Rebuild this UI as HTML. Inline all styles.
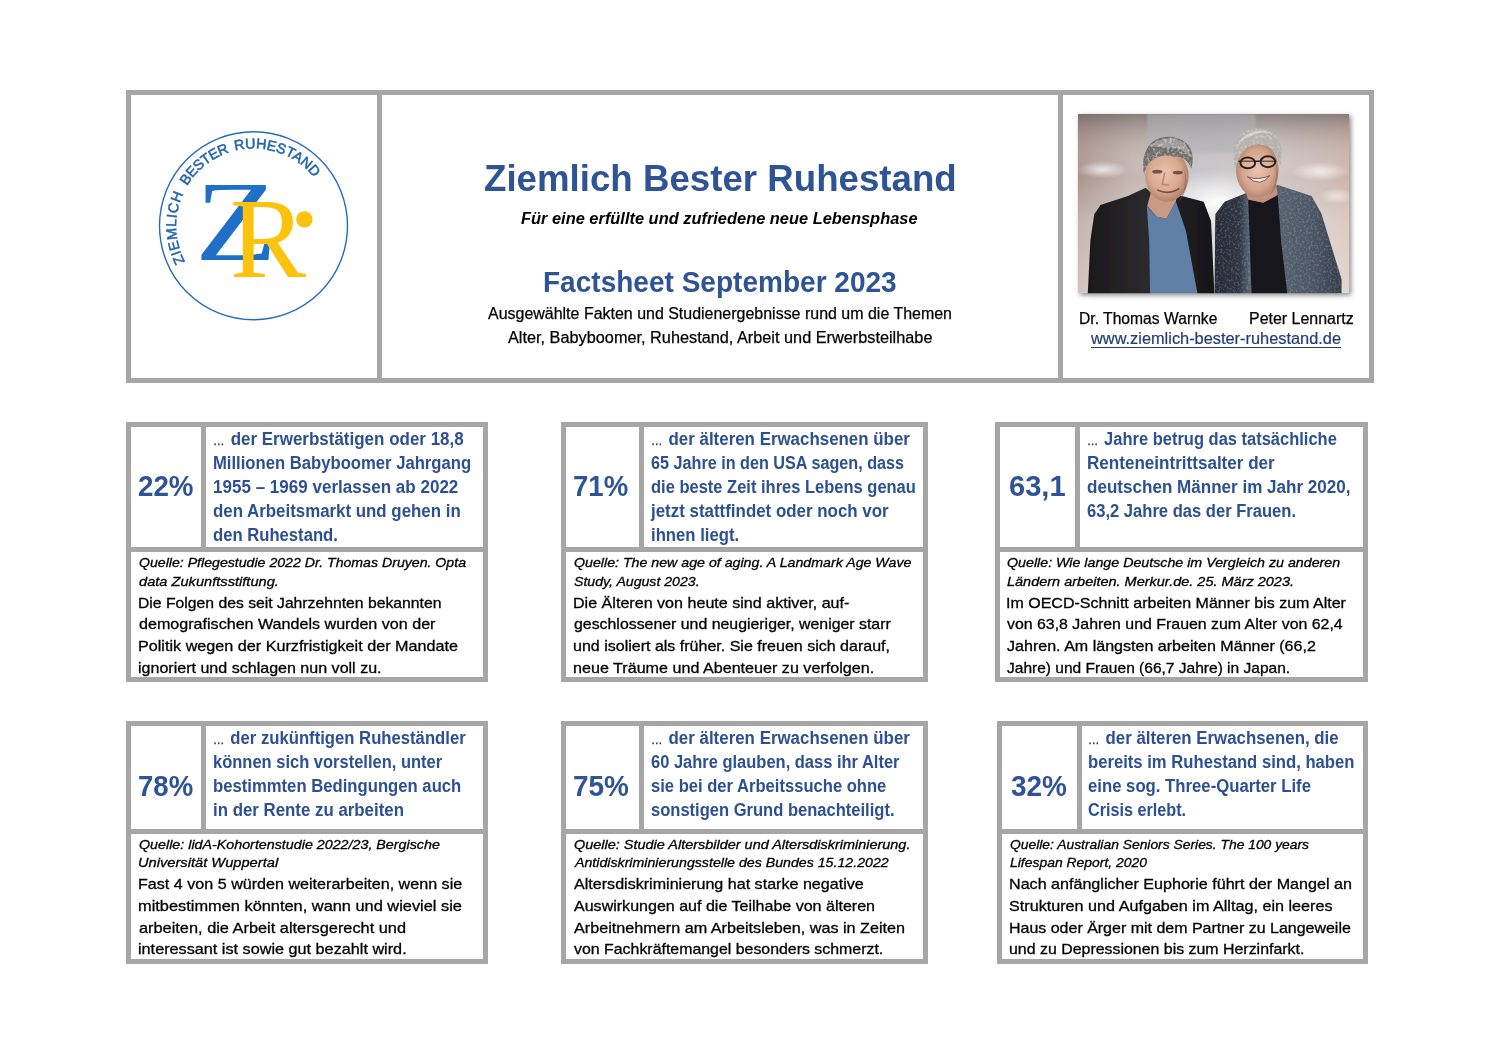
<!DOCTYPE html>
<html lang="de"><head><meta charset="utf-8"><title>Ziemlich Bester Ruhestand – Factsheet September 2023</title>
<style>
html,body{margin:0;padding:0;background:#fff;}
body{width:1500px;height:1060px;position:relative;overflow:hidden;font-family:"Liberation Sans",sans-serif;}
.b{position:absolute;background:#a6a6a6;}
.t{position:absolute;display:block;white-space:nowrap;transform-origin:0 0;line-height:1;margin:0;padding:0;}
.title{font-size:37.7px;font-weight:bold;font-style:normal;color:#2f5496;}
.sub{font-size:16.3px;font-weight:bold;font-style:italic;color:#000;}
.fact{font-size:30.2px;font-weight:bold;font-style:normal;color:#2f5496;}
.desc{font-size:15.8px;font-weight:normal;font-style:normal;color:#000;-webkit-text-stroke:0.25px #000;}
.name{font-size:15.8px;font-weight:normal;font-style:normal;color:#000;-webkit-text-stroke:0.25px #000;}
.url{font-size:15.8px;font-weight:normal;font-style:normal;color:#223c75;-webkit-text-stroke:0.2px #223c75;}
.num{font-size:29.3px;font-weight:bold;font-style:normal;color:#2f5496;}
.stmt{font-size:17.6px;font-weight:bold;font-style:normal;color:#2d5092;}
.src{font-size:13.6px;font-weight:normal;font-style:italic;color:#000;-webkit-text-stroke:0.3px #000;}
.body{font-size:15px;font-weight:normal;font-style:normal;color:#000;-webkit-text-stroke:0.3px #000;}
.url{text-decoration:underline;text-decoration-thickness:1px;text-underline-offset:2.5px;}
svg{position:absolute;overflow:visible;}
.el{font-size:.68em;font-weight:normal;color:#1c2c50;-webkit-text-stroke:0.3px #1c2c50;margin-right:.12em}
</style></head><body>
<header id="head">
<div class="b" style="left:126px;top:90px;width:1248px;height:4.5px"></div>
<div class="b" style="left:126px;top:378px;width:1248px;height:5px"></div>
<div class="b" style="left:126px;top:90px;width:5px;height:293px"></div>
<div class="b" style="left:1369px;top:90px;width:5px;height:293px"></div>
<div class="b" style="left:377px;top:90px;width:5px;height:293px"></div>
<div class="b" style="left:1058px;top:90px;width:5px;height:293px"></div>
<svg style="left:140px;top:120px" width="230" height="220" viewBox="140 120 230 220">
<defs><path id="arc" d="M 194.28 275.49 A 77.3 77.3 0 1 1 312.72 275.49"/></defs>
<circle cx="253.5" cy="225.8" r="94" fill="none" stroke="#246bbf" stroke-width="1.4"/>
<g font-family="'Liberation Sans',sans-serif" font-size="14.3" fill="#1e63b2" stroke="#1e63b2" stroke-width="0.5">
<text><textPath href="#arc" startOffset="16.3" textLength="70.7" lengthAdjust="spacing">ZIEMLICH</textPath></text>
<text><textPath href="#arc" startOffset="95.5" textLength="55.2" lengthAdjust="spacing">BESTER</textPath></text>
<text><textPath href="#arc" startOffset="156.6" textLength="88.0" lengthAdjust="spacing">RUHESTAND</textPath></text>
</g>
<text transform="translate(194.9,259.5) scale(1.186,1)" font-family="'Liberation Serif',serif" font-size="114" fill="#1f6fc9">Z</text>
<text x="230" y="277" font-family="'Liberation Serif',serif" font-size="114" fill="#fcc30e">R</text>
<circle cx="304.4" cy="219.4" r="8.2" fill="#fcc30e"/>
</svg>
<svg style="left:1078px;top:114.3px;filter:drop-shadow(2px 2px 2.5px rgba(0,0,0,.45))" width="271.3" height="179.3" viewBox="42 48 1403 924" preserveAspectRatio="none">
<defs>
<linearGradient id="bgx" x1="0" x2="1" y1="0" y2="0"><stop offset="0" stop-color="#a9948f"/><stop offset=".2" stop-color="#c6b6b1"/><stop offset=".42" stop-color="#c4c3c7"/><stop offset=".7" stop-color="#cfc8c8"/><stop offset="1" stop-color="#cdb5ab"/></linearGradient>
<linearGradient id="bgy" x1="0" x2="0" y1="0" y2="1"><stop offset="0" stop-color="#5f5654" stop-opacity=".6"/><stop offset=".12" stop-color="#8d807c" stop-opacity=".3"/><stop offset=".35" stop-color="#fff" stop-opacity="0"/><stop offset=".6" stop-color="#fff" stop-opacity=".3"/><stop offset="1" stop-color="#fff" stop-opacity=".45"/></linearGradient>
<radialGradient id="glow"><stop offset="0" stop-color="#fff" stop-opacity=".95"/><stop offset="1" stop-color="#fff" stop-opacity="0"/></radialGradient>
<radialGradient id="skin1" cx=".45" cy=".45" r=".6"><stop offset="0" stop-color="#ecc3ad"/><stop offset=".6" stop-color="#d9a890"/><stop offset="1" stop-color="#a87862"/></radialGradient>
<radialGradient id="skin2" cx=".5" cy=".5" r=".6"><stop offset="0" stop-color="#eac4b0"/><stop offset=".6" stop-color="#d6a58e"/><stop offset="1" stop-color="#9d705c"/></radialGradient>
<linearGradient id="jk1" x1="0" x2="1"><stop offset="0" stop-color="#19181b"/><stop offset=".45" stop-color="#2b2a2d"/><stop offset="1" stop-color="#151417"/></linearGradient>
<linearGradient id="jk2" x1="0" x2="1"><stop offset="0" stop-color="#232a35"/><stop offset=".2" stop-color="#2f3744"/><stop offset=".27" stop-color="#566170"/><stop offset=".5" stop-color="#55606f"/><stop offset=".75" stop-color="#4d5867"/><stop offset="1" stop-color="#353e4b"/></linearGradient>
<filter id="bl" x="-10%" y="-10%" width="120%" height="120%"><feGaussianBlur stdDeviation="6"/></filter>
<filter id="bl2" x="-5%" y="-5%" width="110%" height="110%"><feGaussianBlur stdDeviation="3"/></filter>
<filter id="tw" x="0" y="0" width="100%" height="100%"><feTurbulence type="fractalNoise" baseFrequency=".09" numOctaves="2" seed="3" result="n"/><feColorMatrix in="n" type="matrix" values="0 0 0 0 .75  0 0 0 0 .8  0 0 0 0 .88  0 0 0 1.6 -.75" result="m"/><feComposite in="m" in2="SourceGraphic" operator="in"/></filter>
<filter id="hr" x="0" y="0" width="100%" height="100%"><feTurbulence type="fractalNoise" baseFrequency=".07" numOctaves="2" seed="8" result="n"/><feColorMatrix in="n" type="matrix" values="0 0 0 0 .85  0 0 0 0 .85  0 0 0 0 .84  0 0 0 2.2 -1.0" result="m"/><feComposite in="m" in2="SourceGraphic" operator="in"/></filter>
<clipPath id="pc"><rect x="42" y="48" width="1403" height="924"/></clipPath>
</defs>
<g clip-path="url(#pc)">
<rect x="42" y="48" width="1403" height="924" fill="url(#bgx)"/>
<rect x="42" y="48" width="1403" height="924" fill="url(#bgy)"/>
<rect x="400" y="48" width="560" height="200" fill="#b3b3b8" opacity=".55" filter="url(#bl)"/>
<ellipse cx="760" cy="500" rx="340" ry="170" fill="url(#glow)"/>
<ellipse cx="170" cy="335" rx="130" ry="45" fill="url(#glow)" opacity=".75"/>
<ellipse cx="1295" cy="345" rx="150" ry="50" fill="url(#glow)" opacity=".75"/>
<ellipse cx="1380" cy="470" rx="90" ry="40" fill="url(#glow)" opacity=".6"/>
<g filter="url(#bl2)">
<!-- man 1 -->
<path d="M92 985 L106 700 L126 565 L158 517 L300 470 L392 428 L470 500 L560 466 L692 500 L730 600 L748 985 Z" fill="url(#jk1)"/>
<path d="M398 525 L450 578 L500 586 L548 498 L600 650 L662 985 L415 985 L410 700 Z" fill="#5f7fa6"/>
<path d="M425 430 L565 425 L548 498 L500 586 L450 578 L400 522 Z" fill="#c99a84"/>
<ellipse cx="502" cy="368" rx="112" ry="132" fill="url(#skin1)"/>
<path d="M384 360 C360 230 430 160 515 165 C610 170 655 240 628 330 C612 285 575 262 540 268 C500 255 455 262 428 285 C400 300 392 330 384 360 Z" fill="#6f6c69"/>
<path d="M420 215 C450 175 520 160 570 185 C610 205 625 245 620 270 C590 230 540 215 500 222 C470 215 440 220 420 215 Z" fill="#a9a7a4" opacity=".8"/>
<path d="M384 360 C360 230 430 160 515 165 C610 170 655 240 628 330 C612 285 575 262 540 268 C500 255 455 262 428 285 C400 300 392 330 384 360 Z" fill="#fff" filter="url(#hr)" opacity=".75"/>
<ellipse cx="452" cy="345" rx="26" ry="10" fill="#4a332d" opacity=".75"/><ellipse cx="558" cy="350" rx="26" ry="10" fill="#4a332d" opacity=".75"/>
<path d="M490 350 L478 410 L515 415" stroke="#b07d68" stroke-width="8" fill="none" opacity=".8"/>
<path d="M452 440 Q510 468 566 432" stroke="#8a4a44" stroke-width="9" fill="none"/>
<!-- man 2 -->
<path d="M748 985 L752 565 L800 500 L925 450 L1000 500 L1072 412 L1250 470 L1300 560 L1405 900 L1405 985 Z" fill="url(#jk2)"/>
<path d="M748 985 L752 565 L800 500 L925 450 L1000 500 L1072 412 L1250 470 L1300 560 L1405 900 L1405 985 Z" fill="#fff" filter="url(#tw)" opacity=".4"/>
<path d="M922 488 L1000 505 L1075 465 L1092 700 L1125 985 L940 985 L930 700 Z" fill="#15151a"/>
<path d="M900 420 L1065 410 L1075 465 L1000 505 L922 488 Z" fill="#c1917c"/>
<ellipse cx="969" cy="335" rx="110" ry="142" fill="url(#skin2)"/>
<path d="M856 330 C820 190 890 118 975 122 C1070 126 1120 205 1086 320 C1075 250 1040 205 975 205 C915 205 875 250 856 330 Z" fill="#b5b1ac"/>
<path d="M870 200 C900 140 990 115 1050 150 C1020 140 980 140 940 160 C910 170 890 185 870 200 Z" fill="#dcdad6" opacity=".8"/>
<path d="M856 330 C820 190 890 118 975 122 C1070 126 1120 205 1086 320 C1075 250 1040 205 975 205 C915 205 875 250 856 330 Z" fill="#fff" filter="url(#hr)" opacity=".6"/>
<path d="M590 330 C615 400 600 470 560 500 C600 450 600 380 590 330 Z" fill="#8a5a48" opacity=".5"/>
<path d="M1068 300 C1085 380 1070 440 1030 470 C1065 420 1070 360 1068 300 Z" fill="#8a5a48" opacity=".45"/>
</g>
<path d="M872 292 H1068" stroke="#2a1f1c" stroke-width="8"/>
<ellipse cx="920" cy="300" rx="38" ry="28" fill="#e0b9a6" fill-opacity=".35" stroke="#2a1f1c" stroke-width="10"/><ellipse cx="1024" cy="294" rx="38" ry="28" fill="#e0b9a6" fill-opacity=".35" stroke="#2a1f1c" stroke-width="10"/>
<path d="M918 372 Q975 392 1034 366 Q985 430 918 372 Z" fill="#f6efec" stroke="#8a4a44" stroke-width="5"/>
</g>
</svg>
<h1 class="t title" id="t0" style="left:484.03px;top:160.09px;transform:scaleX(0.9730)">Ziemlich Bester Ruhestand</h1>
<p class="t sub" id="t1" style="left:521.00px;top:210.20px;transform:scaleX(1.0076)">Für eine erfüllte und zufriedene neue Lebensphase</p>
<h2 class="t fact" id="t2" style="left:543.14px;top:267.14px;transform:scaleX(0.9286)">Factsheet September 2023</h2>
<p class="t desc" id="t3" style="left:487.50px;top:305.63px;transform:scaleX(1.0109)">Ausgewählte Fakten und Studienergebnisse rund um die Themen</p>
<p class="t desc" id="t4" style="left:507.51px;top:329.93px;transform:scaleX(1.0306)">Alter, Babyboomer, Ruhestand, Arbeit und Erwerbsteilhabe</p>
<div class="t name" id="t5" style="left:1078.50px;top:311.33px;transform:scaleX(0.9914)">Dr. Thomas Warnke</div>
<div class="t name" id="t6" style="left:1249.39px;top:311.33px;transform:scaleX(1.0098)">Peter Lennartz</div>
<a class="t url" id="t7" style="left:1090.52px;top:330.63px;transform:scaleX(1.0355)">www.ziemlich-bester-ruhestand.de</a>
</header>
<main>
<section class="card" id="card1">
<div class="b" style="left:126px;top:422px;width:362px;height:5px"></div>
<div class="b" style="left:126px;top:677px;width:362px;height:5px"></div>
<div class="b" style="left:126px;top:422px;width:5px;height:260px"></div>
<div class="b" style="left:483px;top:422px;width:5px;height:260px"></div>
<div class="b" style="left:126px;top:547px;width:362px;height:5px"></div>
<div class="b" style="left:201px;top:422px;width:5px;height:125px"></div>
<strong class="t num" id="t8" style="left:138.17px;top:471.20px;transform:scaleX(0.9474)">22%</strong>
<p class="t stmt" id="t9" style="left:213.03px;top:431.10px;transform:scaleX(0.9651)"><span class="el">…</span> der Erwerbstätigen oder 18,8</p>
<p class="t stmt" id="t10" style="left:213.05px;top:455.10px;transform:scaleX(0.9462)">Millionen Babyboomer Jahrgang</p>
<p class="t stmt" id="t11" style="left:213.03px;top:479.10px;transform:scaleX(0.9683)">1955 – 1969 verlassen ab 2022</p>
<p class="t stmt" id="t12" style="left:213.04px;top:503.10px;transform:scaleX(0.9586)">den Arbeitsmarkt und gehen in</p>
<p class="t stmt" id="t13" style="left:213.05px;top:527.10px;transform:scaleX(0.9462)">den Ruhestand.</p>
<cite class="t src" id="t14" style="left:139.00px;top:556.49px;transform:scaleX(1.0395)">Quelle: Pflegestudie 2022 Dr. Thomas Druyen. Opta</cite>
<cite class="t src" id="t15" style="left:139.00px;top:575.19px;transform:scaleX(1.0760)">data Zukunftsstiftung.</cite>
<p class="t body" id="t16" style="left:137.95px;top:595.00px;transform:scaleX(1.0486)">Die Folgen des seit Jahrzehnten bekannten</p>
<p class="t body" id="t17" style="left:139.00px;top:615.70px;transform:scaleX(1.0732)">demografischen Wandels wurden von der</p>
<p class="t body" id="t18" style="left:137.92px;top:638.40px;transform:scaleX(1.0780)">Politik wegen der Kurzfristigkeit der Mandate</p>
<p class="t body" id="t19" style="left:137.93px;top:660.10px;transform:scaleX(1.0699)">ignoriert und schlagen nun voll zu.</p>
</section>
<section class="card" id="card2">
<div class="b" style="left:561px;top:422px;width:366.5px;height:5px"></div>
<div class="b" style="left:561px;top:677px;width:366.5px;height:5px"></div>
<div class="b" style="left:561px;top:422px;width:5px;height:260px"></div>
<div class="b" style="left:922.5px;top:422px;width:5px;height:260px"></div>
<div class="b" style="left:561px;top:547px;width:366.5px;height:5px"></div>
<div class="b" style="left:639px;top:422px;width:5px;height:125px"></div>
<strong class="t num" id="t20" style="left:573.18px;top:471.20px;transform:scaleX(0.9404)">71%</strong>
<p class="t stmt" id="t21" style="left:651.15px;top:431.10px;transform:scaleX(0.9604)"><span class="el">…</span> der älteren Erwachsenen über</p>
<p class="t stmt" id="t22" style="left:651.13px;top:455.10px;transform:scaleX(0.9199)">65 Jahre in den USA sagen, dass</p>
<p class="t stmt" id="t23" style="left:651.12px;top:479.10px;transform:scaleX(0.9374)">die beste Zeit ihres Lebens genau</p>
<p class="t stmt" id="t24" style="left:651.11px;top:503.10px;transform:scaleX(0.9611)">jetzt stattfindet oder noch vor</p>
<p class="t stmt" id="t25" style="left:651.17px;top:527.10px;transform:scaleX(0.9495)">ihnen liegt.</p>
<cite class="t src" id="t26" style="left:573.70px;top:556.49px;transform:scaleX(1.0440)">Quelle: The new age of aging. A Landmark Age Wave</cite>
<cite class="t src" id="t27" style="left:573.70px;top:575.19px;transform:scaleX(1.0387)">Study, August 2023.</cite>
<p class="t body" id="t28" style="left:572.62px;top:595.00px;transform:scaleX(1.0727)">Die Älteren von heute sind aktiver, auf-</p>
<p class="t body" id="t29" style="left:573.69px;top:615.70px;transform:scaleX(1.0582)">geschlossener und neugieriger, weniger starr</p>
<p class="t body" id="t30" style="left:572.63px;top:638.40px;transform:scaleX(1.0678)">und isoliert als früher. Sie freuen sich darauf,</p>
<p class="t body" id="t31" style="left:572.62px;top:660.10px;transform:scaleX(1.0748)">neue Träume und Abenteuer zu verfolgen.</p>
</section>
<section class="card" id="card3">
<div class="b" style="left:995px;top:422px;width:373px;height:5px"></div>
<div class="b" style="left:995px;top:677px;width:373px;height:5px"></div>
<div class="b" style="left:995px;top:422px;width:5px;height:260px"></div>
<div class="b" style="left:1363px;top:422px;width:5px;height:260px"></div>
<div class="b" style="left:995px;top:547px;width:373px;height:5px"></div>
<div class="b" style="left:1075px;top:422px;width:5px;height:125px"></div>
<strong class="t num" id="t32" style="left:1008.50px;top:471.20px;transform:scaleX(0.9929)">63,1</strong>
<p class="t stmt" id="t33" style="left:1086.59px;top:431.10px;transform:scaleX(0.9371)"><span class="el">…</span> Jahre betrug das tatsächliche</p>
<p class="t stmt" id="t34" style="left:1086.54px;top:455.10px;transform:scaleX(0.9698)">Renteneintrittsalter der</p>
<p class="t stmt" id="t35" style="left:1086.52px;top:479.10px;transform:scaleX(0.9696)">deutschen Männer im Jahr 2020,</p>
<p class="t stmt" id="t36" style="left:1086.53px;top:503.10px;transform:scaleX(0.9418)">63,2 Jahre das der Frauen.</p>
<cite class="t src" id="t37" style="left:1007.17px;top:556.49px;transform:scaleX(1.0467)">Quelle: Wie lange Deutsche im Vergleich zu anderen</cite>
<cite class="t src" id="t38" style="left:1007.16px;top:575.19px;transform:scaleX(1.0659)">Ländern arbeiten. Merkur.de. 25. März 2023.</cite>
<p class="t body" id="t39" style="left:1006.09px;top:595.00px;transform:scaleX(1.0675)">Im OECD-Schnitt arbeiten Männer bis zum Alter</p>
<p class="t body" id="t40" style="left:1007.22px;top:615.70px;transform:scaleX(1.0593)">von 63,8 Jahren und Frauen zum Alter von 62,4</p>
<p class="t body" id="t41" style="left:1007.16px;top:638.40px;transform:scaleX(1.0704)">Jahren. Am längsten arbeiten Männer (66,2</p>
<p class="t body" id="t42" style="left:1007.18px;top:660.10px;transform:scaleX(1.0353)">Jahre) und Frauen (66,7 Jahre) in Japan.</p>
</section>
<section class="card" id="card4">
<div class="b" style="left:126px;top:721px;width:362px;height:5px"></div>
<div class="b" style="left:126px;top:959px;width:362px;height:5px"></div>
<div class="b" style="left:126px;top:721px;width:5px;height:243px"></div>
<div class="b" style="left:483px;top:721px;width:5px;height:243px"></div>
<div class="b" style="left:126px;top:829px;width:362px;height:4.5px"></div>
<div class="b" style="left:201px;top:721px;width:5px;height:108px"></div>
<strong class="t num" id="t43" style="left:138.18px;top:770.70px;transform:scaleX(0.9404)">78%</strong>
<p class="t stmt" id="t44" style="left:213.05px;top:729.60px;transform:scaleX(0.9479)"><span class="el">…</span> der zukünftigen Ruheständler</p>
<p class="t stmt" id="t45" style="left:213.06px;top:753.60px;transform:scaleX(0.9375)">können sich vorstellen, unter</p>
<p class="t stmt" id="t46" style="left:213.05px;top:777.60px;transform:scaleX(0.9477)">bestimmten Bedingungen auch</p>
<p class="t stmt" id="t47" style="left:213.04px;top:801.60px;transform:scaleX(0.9574)">in der Rente zu arbeiten</p>
<cite class="t src" id="t48" style="left:139.00px;top:838.19px;transform:scaleX(1.0504)">Quelle: lidA-Kohortenstudie 2022/23, Bergische</cite>
<cite class="t src" id="t49" style="left:137.92px;top:855.89px;transform:scaleX(1.0785)">Universität Wuppertal</cite>
<p class="t body" id="t50" style="left:137.93px;top:875.60px;transform:scaleX(1.0740)">Fast 4 von 5 würden weiterarbeiten, wenn sie</p>
<p class="t body" id="t51" style="left:137.91px;top:898.30px;transform:scaleX(1.0915)">mitbestimmen könnten, wann und wieviel sie</p>
<p class="t body" id="t52" style="left:139.00px;top:920.00px;transform:scaleX(1.0893)">arbeiten, die Arbeit altersgerecht und</p>
<p class="t body" id="t53" style="left:137.92px;top:940.70px;transform:scaleX(1.0813)">interessant ist sowie gut bezahlt wird.</p>
</section>
<section class="card" id="card5">
<div class="b" style="left:561px;top:721px;width:367px;height:5px"></div>
<div class="b" style="left:561px;top:959px;width:367px;height:5px"></div>
<div class="b" style="left:561px;top:721px;width:5px;height:243px"></div>
<div class="b" style="left:923px;top:721px;width:5px;height:243px"></div>
<div class="b" style="left:561px;top:829px;width:367px;height:4.5px"></div>
<div class="b" style="left:639px;top:721px;width:5px;height:108px"></div>
<strong class="t num" id="t54" style="left:573.16px;top:770.70px;transform:scaleX(0.9544)">75%</strong>
<p class="t stmt" id="t55" style="left:651.15px;top:729.60px;transform:scaleX(0.9604)"><span class="el">…</span> der älteren Erwachsenen über</p>
<p class="t stmt" id="t56" style="left:651.12px;top:753.60px;transform:scaleX(0.9366)">60 Jahre glauben, dass ihr Alter</p>
<p class="t stmt" id="t57" style="left:651.17px;top:777.60px;transform:scaleX(0.9427)">sie bei der Arbeitssuche ohne</p>
<p class="t stmt" id="t58" style="left:651.18px;top:801.60px;transform:scaleX(0.9401)">sonstigen Grund benachteiligt.</p>
<cite class="t src" id="t59" style="left:573.69px;top:838.19px;transform:scaleX(1.0635)">Quelle: Studie Altersbilder und Altersdiskriminierung.</cite>
<cite class="t src" id="t60" style="left:574.74px;top:855.89px;transform:scaleX(1.0430)">Antidiskriminierungsstelle des Bundes 15.12.2022</cite>
<p class="t body" id="t61" style="left:573.69px;top:875.60px;transform:scaleX(1.0726)">Altersdiskriminierung hat starke negative</p>
<p class="t body" id="t62" style="left:573.69px;top:898.30px;transform:scaleX(1.0690)">Auswirkungen auf die Teilhabe von älteren</p>
<p class="t body" id="t63" style="left:573.69px;top:920.00px;transform:scaleX(1.0791)">Arbeitnehmern am Arbeitsleben, was in Zeiten</p>
<p class="t body" id="t64" style="left:573.69px;top:940.70px;transform:scaleX(1.0598)">von Fachkräftemangel besonders schmerzt.</p>
</section>
<section class="card" id="card6">
<div class="b" style="left:997px;top:721px;width:371px;height:5px"></div>
<div class="b" style="left:997px;top:959px;width:371px;height:5px"></div>
<div class="b" style="left:997px;top:721px;width:5px;height:243px"></div>
<div class="b" style="left:1363px;top:721px;width:5px;height:243px"></div>
<div class="b" style="left:997px;top:829px;width:371px;height:4.5px"></div>
<div class="b" style="left:1077px;top:721px;width:5px;height:108px"></div>
<strong class="t num" id="t65" style="left:1010.53px;top:770.70px;transform:scaleX(0.9544)">32%</strong>
<p class="t stmt" id="t66" style="left:1088.27px;top:729.60px;transform:scaleX(0.9575)"><span class="el">…</span> der älteren Erwachsenen, die</p>
<p class="t stmt" id="t67" style="left:1088.27px;top:753.60px;transform:scaleX(0.9462)">bereits im Ruhestand sind, haben</p>
<p class="t stmt" id="t68" style="left:1088.23px;top:777.60px;transform:scaleX(0.9502)">eine sog. Three-Quarter Life</p>
<p class="t stmt" id="t69" style="left:1088.24px;top:801.60px;transform:scaleX(0.9201)">Crisis erlebt.</p>
<cite class="t src" id="t70" style="left:1009.89px;top:838.19px;transform:scaleX(1.0191)">Quelle: Australian Seniors Series. The 100 years</cite>
<cite class="t src" id="t71" style="left:1009.91px;top:855.89px;transform:scaleX(1.0239)">Lifespan Report, 2020</cite>
<p class="t body" id="t72" style="left:1008.85px;top:875.60px;transform:scaleX(1.0736)">Nach anfänglicher Euphorie führt der Mangel an</p>
<p class="t body" id="t73" style="left:1008.85px;top:898.30px;transform:scaleX(1.0776)">Strukturen und Aufgaben im Alltag, ein leeres</p>
<p class="t body" id="t74" style="left:1008.85px;top:920.00px;transform:scaleX(1.0650)">Haus oder Ärger mit dem Partner zu Langeweile</p>
<p class="t body" id="t75" style="left:1008.86px;top:940.70px;transform:scaleX(1.0607)">und zu Depressionen bis zum Herzinfarkt.</p>
</section>
</main>
</body></html>
